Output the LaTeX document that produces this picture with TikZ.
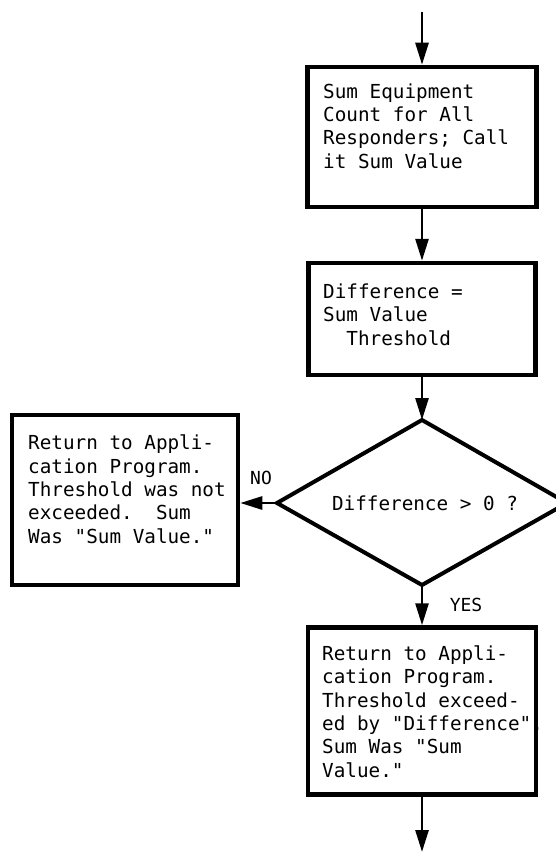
\documentclass[tikz,border=0pt]{standalone}
\usepackage{fontspec}
\usetikzlibrary{arrows.meta}
\newfontfamily\twfont{DejaVu Sans Mono}
\begin{document}
\begin{tikzpicture}[x=1pt,y=-1pt,
  box/.style={draw,line width=4.5pt,rectangle,inner sep=0pt},
  txt/.style={anchor=base west,inner sep=0pt,align=left,
    font=\twfont\fontsize{19.3}{23.3}\selectfont},
  decline/.style={line width=4pt,line join=miter},
  dectxt/.style={inner sep=0pt,font=\twfont\fontsize{19.3}{23}\selectfont},
  conn/.style={line width=2.7pt,-{Triangle[length=22pt,width=13pt]}},
  lbl/.style={font=\twfont\fontsize{18}{18}\selectfont,inner sep=0pt}]
\useasboundingbox (0,0) rectangle (556,853);
\coordinate (start) at (422,12);
\coordinate (finish) at (422,852);
\node[box,minimum width=229pt,minimum height=140pt] (b1) at (422,137) {};
\node[txt] (t1) at (323,168) {Sum Equipment\\Count for All\\Responders; Call\\it Sum Value};
\node[box,minimum width=227pt,minimum height=112pt] (b2) at (422,319) {};
\node[txt] (t2) at (323,345) {Difference =\\Sum Value\\\phantom{xx}Threshold};
\coordinate (dN) at (422,420);
\coordinate (dW) at (277,503);
\coordinate (dS) at (422,585);
\coordinate (dE) at (567,503);
\draw[decline] (dN) -- (dE) -- (dS) -- (dW) -- cycle;
\node[dectxt] (d) at (425,503) {Difference > 0 ?};
\node[box,minimum width=226pt,minimum height=170pt] (no) at (125,500) {};
\node[txt] (tno) at (28,543)
  {Return to Appli-\\cation Program.\\Threshold was not\\exceeded.\ \ Sum\\Was "Sum Value."};
\node[box,minimum width=228pt,minimum height=167pt] (yes) at (422,711) {};
\node[txt] (tyes) at (322,777)
  {Return to Appli-\\cation Program.\\Threshold exceed-\\ed by "Difference".\\Sum Was "Sum\\Value."};
\draw[conn] (start) -- (b1.north);
\draw[conn] (b1.south) -- (b2.north);
\draw[conn] (b2.south) -- (dN);
\draw[conn] (dW) -- (dW -| no.east);
\draw[conn] (dS) -- (yes.north);
\draw[conn] (yes.south) -- (finish);
\node[lbl] (nolbl) at (261,478) {NO};
\node[lbl] (yeslbl) at (466,605) {YES};
\end{tikzpicture}
\end{document}
